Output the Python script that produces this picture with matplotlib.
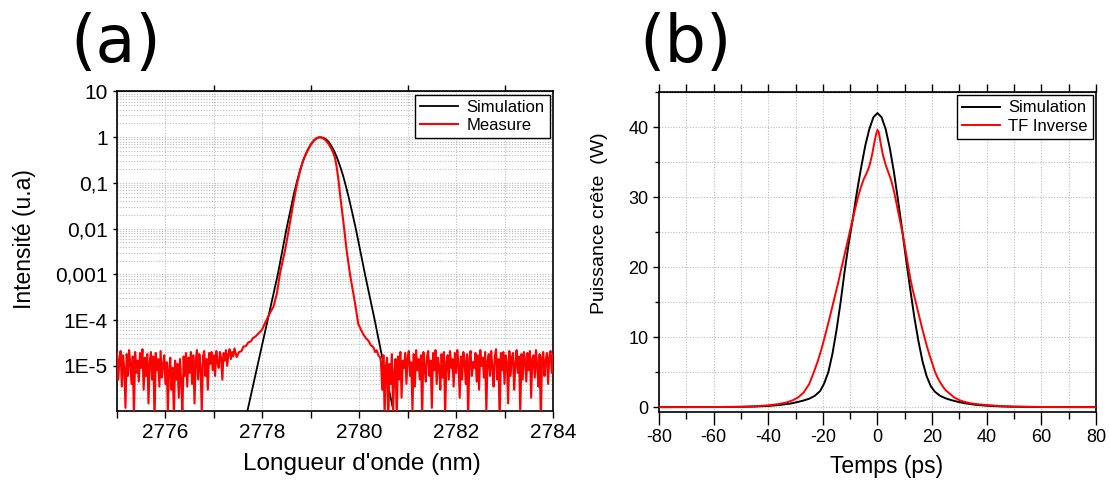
import numpy as np
import matplotlib
matplotlib.use("Agg")
import matplotlib.pyplot as plt
from matplotlib.ticker import MultipleLocator, FixedLocator, NullFormatter, LogLocator

plt.rcParams['font.family'] = ['Liberation Sans', 'DejaVu Sans']
plt.rcParams['axes.unicode_minus'] = False

# ---------------- (a) spectrum ----------------
# simulation: wavelength (nm) vs log10(intensity)
sim_wl = [2777.40, 2777.69, 2777.90, 2778.11, 2778.32, 2778.50, 2778.58, 2778.65, 2778.72,
          2778.79, 2778.86, 2778.93, 2779.00, 2779.07, 2779.13, 2779.19, 2779.25, 2779.31,
          2779.37, 2779.43, 2779.49, 2779.55, 2779.61, 2779.67, 2779.72, 2779.78, 2779.85,
          2779.93, 2780.12, 2780.32, 2780.51, 2780.71, 2781.00]
sim_log = [-7.4, -6.0, -5.0, -4.0, -3.0, -2.0, -1.6, -1.25, -0.95,
           -0.68, -0.46, -0.29, -0.16, -0.07, -0.02, 0.0, -0.01, -0.04,
           -0.1, -0.2, -0.32, -0.47, -0.65, -0.85, -1.05, -1.3, -1.62,
           -2.0, -3.0, -4.0, -5.0, -6.0, -7.4]

# measurement: noise floor (units of 1e-5) sampled every 0.025 nm
NOISE_UNIT = 1e-5
noise_step = 0.025
noise_left_start = 2775.0
noise_left = [1.9, 0.5, 1.4, 2.1, 0.35, 1.7, 0.9, 0.12, 1.8, 0.6, 2.2, 1.1, 0.4, 1.6, 0.08, 2.0, 0.7, 1.3, 0.45, 1.9,
              0.9, 2.3, 0.3, 1.5, 0.6, 1.8, 0.15, 1.2, 2.0, 0.5, 1.6, 0.06, 1.9, 0.8, 1.4, 0.35, 2.1, 0.55, 1.0, 1.7,
              0.4, 1.2, 0.1, 0.8, 1.5, 0.3, 0.9, 0.07, 1.3, 0.5, 1.1, 0.2, 1.4, 0.45, 0.08, 1.6, 0.6, 1.9, 0.35, 1.5,
              0.7, 2.0, 0.4, 1.7, 0.15, 1.3, 2.2, 0.5, 1.8, 0.9, 0.1, 1.6, 2.1, 0.6, 1.4, 0.3, 1.9, 1.1, 2.0, 0.8,
              1.7, 0.6, 2.1, 1.2, 0.9, 2.0, 1.5, 0.5, 1.9, 1.3, 2.2, 1.0, 1.8, 2.3, 1.4, 2.0, 1.6, 2.4]
noise_right_start = 2780.45
noise_right = [1.2, 0.3, 1.7, 0.08, 0.9, 1.5, 0.05, 1.1, 0.4, 1.8, 0.1, 0.7, 1.4, 0.06, 1.6, 0.5, 2.0, 0.2, 1.3, 0.9,
               1.9, 0.4, 1.5, 2.1, 0.6, 1.2, 0.1, 1.8, 0.35, 2.2, 0.8, 1.4, 0.5, 1.7, 0.07, 2.0, 1.0, 0.45, 1.6, 2.1,
               0.6, 1.3, 0.12, 1.9, 0.8, 2.2, 0.4, 1.5, 1.0, 0.3, 1.8, 0.55, 2.0, 0.08, 1.2, 1.7, 0.5, 2.1, 0.9, 1.4,
               0.35, 1.9, 0.7, 2.2, 1.1, 0.2, 1.6, 0.5, 2.0, 1.3, 0.4, 1.8, 0.07, 1.5, 2.1, 0.6, 1.2, 0.9, 1.9, 0.45,
               1.7, 0.3, 2.2, 1.0, 1.5, 0.55, 2.0, 0.1, 1.3, 1.8, 0.6, 2.1, 0.9, 0.35, 1.6, 2.3, 0.5, 1.4, 0.06, 1.9,
               0.8, 2.0, 0.4, 1.7, 1.2, 0.15, 2.1, 0.6, 1.5, 1.9, 0.3, 1.1, 2.2, 0.7, 1.6, 0.09, 1.8, 0.5, 2.0, 1.3,
               0.45, 1.9, 0.8, 2.1, 0.2, 1.4, 1.7, 0.55, 2.2, 1.0, 0.35, 1.8, 0.06, 1.5, 2.0, 0.6, 1.3, 1.9, 0.4, 1.6,
               2.1, 0.7, 1.8]
# measurement: tails + peak, wavelength vs log10(intensity)
meas_wl = [2777.47, 2777.52, 2777.57, 2777.61, 2777.66, 2777.71, 2777.76, 2777.81, 2777.86, 2777.92,
           2777.99, 2778.05, 2778.12, 2778.18, 2778.23, 2778.30, 2778.37, 2778.47, 2778.55, 2778.63,
           2778.72, 2778.78, 2778.84, 2778.90, 2778.96, 2779.02, 2779.08, 2779.14, 2779.19, 2779.25,
           2779.31, 2779.37, 2779.42, 2779.46, 2779.50, 2779.535, 2779.57, 2779.61, 2779.65, 2779.69,
           2779.74, 2779.81, 2779.88, 2779.94, 2779.98, 2780.04, 2780.09, 2780.14, 2780.19, 2780.24,
           2780.29, 2780.33, 2780.36, 2780.40, 2780.43]
meas_log = [-4.81, -4.70, -4.68, -4.58, -4.57, -4.49, -4.47, -4.39, -4.36, -4.29,
            -4.22, -4.08, -3.93, -3.80, -3.71, -3.42, -2.95, -2.47, -2.0, -1.5,
            -1.0, -0.74, -0.52, -0.37, -0.24, -0.13, -0.05, -0.01, 0.0, -0.02,
            -0.07, -0.15, -0.24, -0.33, -0.45, -0.65, -0.92, -1.3, -1.65, -2.0,
            -2.47, -3.0, -3.42, -3.8, -4.08, -4.22, -4.32, -4.40, -4.45, -4.55,
            -4.59, -4.70, -4.66, -4.78, -4.81]

# ---------------- (b) temporal profile ----------------
sim_t = [-80, -70, -60, -50, -45, -40, -36, -32, -29, -27, -25, -23, -21, -19.5, -18, -16.5,
         -15, -13.5, -12, -10.5, -9, -7.5, -6, -4.5, -3, -1.5, 0, 1.5, 3, 4.5, 6, 7.5, 9,
         10.5, 12, 13.5, 15, 16.5, 18, 19.5, 21, 23, 25, 27, 29, 32, 36, 40, 45, 50, 60, 70, 80]
sim_p = [0.0, 0.005, 0.01, 0.04, 0.08, 0.17, 0.3, 0.5, 0.75, 0.95, 1.2, 1.6, 2.3, 3.4, 5.0, 7.6,
         11.0, 15.0, 19.5, 23.5, 27.0, 30.8, 34.2, 37.3, 39.7, 41.4, 42.0, 41.4, 39.7, 37.0, 33.6, 29.6, 25.4,
         21.0, 16.8, 12.8, 9.4, 6.5, 4.4, 3.0, 2.2, 1.6, 1.25, 1.0, 0.8, 0.55, 0.33, 0.2, 0.1, 0.05, 0.01, 0.005, 0.0]
tf_t = [-80, -70, -60, -50, -45, -40, -36, -33, -30.9, -29, -27, -25, -23.5, -22, -20.5, -19,
        -17.5, -16, -14.5, -13, -11.5, -10, -8.5, -7, -6, -5, -4, -3, -2, -1.2, -0.5, 0,
        0.5, 1.2, 2, 3, 4, 5, 6, 7, 8, 9, 10, 11, 12, 13, 14, 15, 16, 17, 18, 19, 20, 21,
        22, 23, 24, 25, 26.5, 28, 30, 31.4, 34, 37, 40, 45, 50, 60, 70, 80]
tf_p = [0.0, 0.005, 0.01, 0.05, 0.12, 0.25, 0.45, 0.7, 1.0, 1.4, 2.1, 3.3, 4.8, 6.4, 8.3, 10.5,
        12.8, 15.2, 17.6, 20.2, 22.7, 25.3, 27.8, 30.2, 31.5, 32.6, 33.4, 34.4, 36.0, 37.7, 39.0, 39.6,
        39.2, 37.6, 36.0, 34.6, 33.5, 32.4, 30.9, 29.0, 27.1, 25.2, 23.0, 20.7, 18.4, 16.6, 15.0, 13.4, 11.8, 10.3, 8.8, 7.5, 6.3, 5.1,
        4.2, 3.5, 2.9, 2.4, 1.9, 1.4, 1.0, 0.8, 0.55, 0.4, 0.3, 0.15, 0.08, 0.02, 0.005, 0.0]

# assemble measured spectrum
wl_left = noise_left_start + noise_step * np.arange(len(noise_left))
wl_right = noise_right_start + noise_step * np.arange(len(noise_right))
meas_x = np.concatenate([wl_left, meas_wl, wl_right])
meas_y = np.concatenate([np.array(noise_left) * NOISE_UNIT,
                         10.0 ** np.array(meas_log),
                         np.array(noise_right) * NOISE_UNIT])

fig = plt.figure(figsize=(11.09, 4.82), dpi=100)
ax1 = fig.add_axes([0.1055, 0.1463, 0.3931, 0.6639])
ax2 = fig.add_axes([0.5942, 0.1452, 0.3941, 0.6638])

grid_kw = dict(color='#bdbdbd', linestyle=(0, (1, 1.5)), linewidth=0.8)
leg_kw = dict(loc='upper right', fontsize=12, frameon=True, fancybox=False, edgecolor='black',
              framealpha=1, borderaxespad=0.2, borderpad=0.3, handlelength=2.3,
              labelspacing=0.2, handletextpad=0.5)

# --- panel a
ax1.plot(sim_wl, 10.0 ** np.array(sim_log), color='black', lw=1.3, label='Simulation', zorder=3)
ax1.plot(meas_x, meas_y, color='#ff0000', lw=1.5, label='Measure', zorder=4)
ax1.set_yscale('log')
ax1.set_xlim(2775, 2784)
ax1.set_ylim(1e-6, 10)
ax1.yaxis.set_major_locator(FixedLocator([1e-5, 1e-4, 1e-3, 1e-2, 0.1, 1, 10]))
ax1.set_yticklabels(['1E-5', '1E-4', '0,001', '0,01', '0,1', '1', '10'])
ax1.yaxis.set_minor_locator(LogLocator(base=10, subs=np.arange(2, 10)))
ax1.yaxis.set_minor_formatter(NullFormatter())
ax1.xaxis.set_major_locator(MultipleLocator(2))
ax1.xaxis.set_minor_locator(MultipleLocator(1))
ax1.grid(True, which='both', **grid_kw)
ax1.set_axisbelow(True)
ax1.tick_params(axis='x', which='both', direction='out', length=5, width=1.0, labelsize=15)
ax1.tick_params(axis='y', which='major', direction='out', length=3, width=1.0, labelsize=15)
ax1.tick_params(axis='y', which='minor', length=0)
secax = ax1.secondary_xaxis('top')
secax.set_xticks([2777, 2779, 2781, 2783])
secax.tick_params(labeltop=False, direction='out', length=4, width=1.0)
ax1.set_xlabel("Longueur d'onde (nm)", fontsize=17.5)
ax1.set_ylabel('Intensité (u.a)', fontsize=16.5)
ax1.xaxis.set_label_coords(0.561, -0.13)
ax1.yaxis.set_label_coords(-0.186, 0.54)
for s in ax1.spines.values():
    s.set_linewidth(1.2)
ax1.legend(**leg_kw)

# --- panel b
ax2.plot(sim_t, sim_p, color='black', lw=1.4, label='Simulation', zorder=3)
ax2.plot(tf_t, tf_p, color='#ff0000', lw=1.4, label='TF Inverse', zorder=4)
ax2.set_xlim(-80, 80)
ax2.set_ylim(-0.7, 45)
ax2.xaxis.set_major_locator(MultipleLocator(20))
ax2.xaxis.set_minor_locator(MultipleLocator(10))
ax2.yaxis.set_major_locator(MultipleLocator(10))
ax2.yaxis.set_minor_locator(MultipleLocator(5))
ax2.grid(True, which='both', **grid_kw)
ax2.set_axisbelow(True)
ax2.tick_params(axis='x', which='major', direction='out', length=9, width=1.0, labelsize=13)
ax2.tick_params(axis='x', which='minor', direction='out', length=5, width=1.0)
ax2.tick_params(axis='y', which='major', direction='out', length=4, width=1.0, labelsize=13)
ax2.tick_params(axis='y', which='minor', direction='out', length=3, width=1.0)
top2 = ax2.secondary_xaxis('top')
top2.set_xticks(np.arange(-80, 81, 10))
top2.tick_params(labeltop=False, direction='out', length=6, width=1.0)
ax2.set_xlabel('Temps (ps)', fontsize=16.5)
ax2.set_ylabel('Puissance crête  (W)', fontsize=14)
ax2.xaxis.set_label_coords(0.521, -0.134)
ax2.yaxis.set_label_coords(-0.117, 0.59)
for s in ax2.spines.values():
    s.set_linewidth(1.2)
ax2.legend(**leg_kw)

fig.text(0.1045, 0.909, '(a)', fontsize=47, family='DejaVu Sans', ha='center', va='center')
fig.text(0.6186, 0.909, '(b)', fontsize=47, family='DejaVu Sans', ha='center', va='center')

fig.savefig('out.png', dpi=100)
